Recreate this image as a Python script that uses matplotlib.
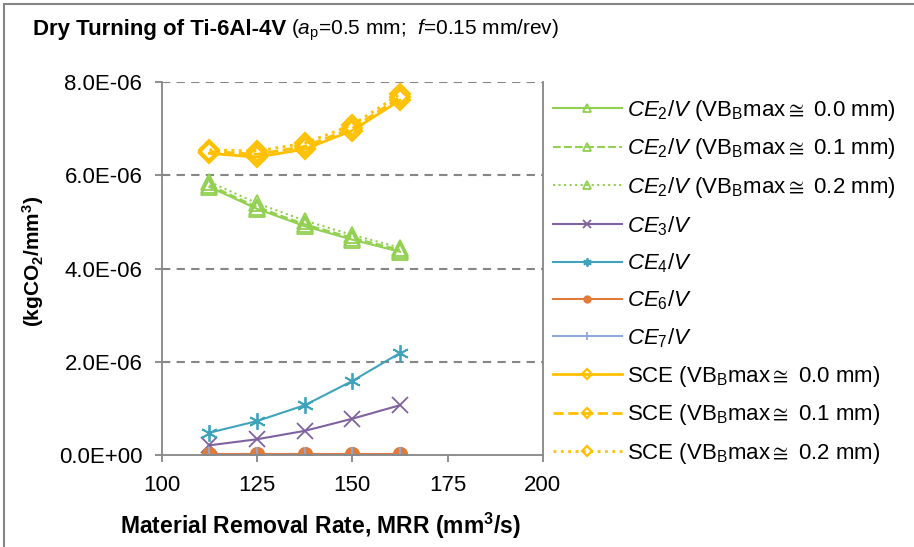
import numpy as np
import matplotlib.pyplot as plt
from matplotlib.patches import Rectangle
from matplotlib.ticker import FuncFormatter

plt.rcParams['font.family'] = ['Liberation Sans', 'DejaVu Sans']
plt.rcParams['mathtext.fontset'] = 'custom'
plt.rcParams['mathtext.rm'] = 'Liberation Sans'
plt.rcParams['mathtext.it'] = 'Liberation Sans:italic'
plt.rcParams['mathtext.bf'] = 'Liberation Sans:bold'
plt.rcParams['mathtext.fallback'] = 'stixsans'

# data (values in 1e-6 kgCO2/mm3)
mrr = [112.5, 125, 137.5, 150, 162.5]
ce2_00 = [5.75, 5.28, 4.91, 4.62, 4.36]
ce2_01 = [5.79, 5.32, 4.95, 4.66, 4.40]
ce2_02 = [5.86, 5.40, 5.03, 4.72, 4.45]
ce3 = [0.21, 0.34, 0.52, 0.78, 1.07]
ce4 = [0.48, 0.73, 1.07, 1.59, 2.19]
ce6 = [0.02, 0.02, 0.02, 0.02, 0.02]
ce7 = [0.005, 0.005, 0.005, 0.005, 0.005]
sce_00 = [6.47, 6.39, 6.56, 6.96, 7.61]
sce_01 = [6.51, 6.45, 6.62, 7.01, 7.67]
sce_02 = [6.55, 6.52, 6.69, 7.08, 7.74]

green = '#92D050'
purple = '#7F63A1'
teal = '#3FA3BC'
orange = '#E07B39'
lblue = '#8EAADB'
gold = '#FFC000'

fig = plt.figure(figsize=(9.14, 5.47), dpi=100)
ax = fig.add_axes([0.177, 0.168, 0.417, 0.682])

def sc(v):
    return np.array(v) * 1e-6

vb = ' (VB$_\\mathrm{B}$max${\\cong}$ %s mm)'
ax.plot(mrr, sc(ce2_00), '-', color=green, marker='^', ms=12, mfc='none', mew=1.3, lw=1.5,
        label='$CE_2/V$' + vb % '0.0')
ax.plot(mrr, sc(ce2_01), '--', color=green, marker='^', ms=12, mfc='none', mew=1.3, lw=1.5,
        label='$CE_2/V$' + vb % '0.1')
ax.plot(mrr, sc(ce2_02), ':', color=green, marker='^', ms=12, mfc='none', mew=1.3, lw=1.5,
        label='$CE_2/V$' + vb % '0.2')
ax.plot(mrr, sc(ce3), '-', color=purple, marker='x', ms=11, mew=1.3, lw=1.5, label='$CE_3/V$')
ax.plot(mrr, sc(ce4), '-', color=teal, marker=(6, 2, 0), ms=12, mew=1.3, lw=1.5, label='$CE_4/V$')
ax.plot(mrr, sc(ce6), '-', color=orange, marker='o', ms=10, lw=1.5, label='$CE_6/V$')
ax.plot(mrr, sc(ce7), '-', color=lblue, marker='+', ms=11, mew=1.3, lw=1.5, label='$CE_7/V$')
ax.plot(mrr, sc(sce_00), '-', color=gold, marker='D', ms=10, mfc='none', mew=1.6, lw=2,
        label='SCE' + vb % '0.0')
ax.plot(mrr, sc(sce_01), '--', color=gold, marker='D', ms=10, mfc='none', mew=1.6, lw=2,
        label='SCE' + vb % '0.1')
ax.plot(mrr, sc(sce_02), ':', color=gold, marker='D', ms=10, mfc='none', mew=1.6, lw=2,
        label='SCE' + vb % '0.2')

ax.set_xlim(100, 200)
ax.set_ylim(0, 8e-6)
ax.set_xticks([100, 125, 150, 175, 200])
ax.set_yticks([0, 2e-6, 4e-6, 6e-6, 8e-6])
ax.yaxis.set_major_formatter(FuncFormatter(lambda v, p: '%.1E' % v))
ax.tick_params(labelsize=16, color='#868686', length=5, width=1.3)
ax.tick_params(axis='x', pad=9)
ax.tick_params(axis='y', pad=9)
for y in [2e-6, 4e-6, 6e-6, 8e-6]:
    ax.axhline(y, color='#868686', ls=(0, (4, 3)), lw=1.5, zorder=0)
for s in ['left', 'bottom', 'right']:
    ax.spines[s].set_color('#868686')
    ax.spines[s].set_linewidth(1.3)
ax.spines['top'].set_visible(False)

ax.set_xlabel('Material Removal Rate, MRR (mm$^\\mathbf{3}$/s)', fontsize=16.5, fontweight='bold')
ax.xaxis.set_label_coords((321 - 162) / 381, -0.15)
ax.set_ylabel('(kgCO$_\\mathbf{2}$/mm$^\\mathbf{3}$)', fontsize=15, fontweight='bold')
ax.yaxis.set_label_coords((46 - 162) / 381, 0.52)

leg = ax.legend(loc='upper left', bbox_to_anchor=(1.026, 0.958), frameon=False, fontsize=16,
                handlelength=3.1, handletextpad=0.25, labelspacing=0.62, markerscale=0.5,
                borderaxespad=0, borderpad=0)

t1 = fig.text(33 / 914, 1 - 30 / 547, 'Dry Turning of Ti-6Al-4V', fontsize=16, fontweight='bold', va='center')
fig.canvas.draw()
bb = t1.get_window_extent()
fig.text((bb.x1 + 5) / 914, 1 - 30 / 547, '($a_\\mathrm{p}$=0.5 mm;  $f$=0.15 mm/rev)', fontsize=15, va='center')

fig.add_artist(Rectangle((4 / 914, -0.1), 1.2, 1 - 4 / 547 + 0.1, transform=fig.transFigure,
                         fill=False, ec='#868686', lw=1.5))

fig.savefig('out.png', dpi=100)
